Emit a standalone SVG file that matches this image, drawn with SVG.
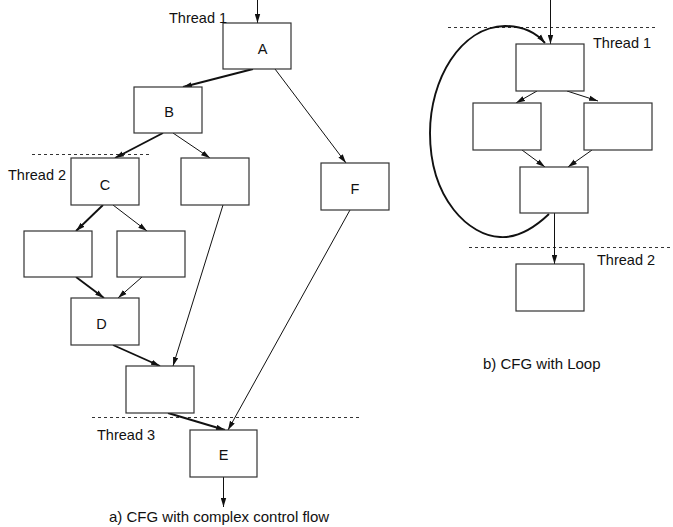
<svg xmlns="http://www.w3.org/2000/svg" width="673" height="527" viewBox="0 0 673 527">
<style>
.box{fill:#fff;stroke:#333;stroke-width:1.2}
.lbl{font-family:"Liberation Sans",Arial,sans-serif;font-size:14.5px;fill:#111}
.cap{font-family:"Liberation Sans",Arial,sans-serif;font-size:15px;fill:#111}
.thin{fill:none;stroke:#111;stroke-width:1;marker-end:url(#ah)}
.thick{fill:none;stroke:#111;stroke-width:1.9;marker-end:url(#ah)}
.plain{fill:none;stroke:#111;stroke-width:1}
.dash{fill:none;stroke:#333;stroke-width:1;stroke-dasharray:3,3}
</style>
<defs>
<marker id="ah" viewBox="0 0 10 6" refX="10" refY="3" markerWidth="9" markerHeight="6" markerUnits="userSpaceOnUse" orient="auto">
<path d="M0,0 L10,3 L0,6 z" fill="#111"/>
</marker>
</defs>
<rect width="673" height="527" fill="#fff"/>
<g id="separators">
<line class="dash" x1="32" y1="154.5" x2="152" y2="154.5"/>
<line class="dash" x1="92" y1="417.5" x2="360" y2="417.5"/>
<line class="dash" x1="448" y1="27.5" x2="655" y2="27.5"/>
<line class="dash" x1="469" y1="247.5" x2="673" y2="247.5"/>
</g>
<g id="connectors">
<line class="thin" x1="257.5" y1="0" x2="257.5" y2="23"/>
<line class="thick" x1="253" y1="69" x2="183" y2="87"/>
<line class="thin" x1="275" y1="69" x2="346" y2="163"/>
<line class="thick" x1="163" y1="133" x2="115" y2="158"/>
<line class="thin" x1="173" y1="133" x2="210" y2="158"/>
<line class="thick" x1="103" y1="205" x2="76" y2="231"/>
<line class="thin" x1="113" y1="205" x2="147" y2="231"/>
<line class="thick" x1="76" y1="277" x2="104" y2="298"/>
<line class="thin" x1="142" y1="277" x2="118" y2="298"/>
<line class="thick" x1="113" y1="345" x2="160" y2="366"/>
<line class="thin" x1="223" y1="205" x2="173" y2="366"/>
<line class="thick" x1="168" y1="413" x2="225" y2="430"/>
<line class="thin" x1="350" y1="210" x2="228" y2="430"/>
<line class="thin" x1="223.5" y1="477" x2="223.5" y2="507"/>
<line class="thin" x1="550.5" y1="0" x2="550.5" y2="44"/>
<line class="thin" x1="537" y1="91" x2="516" y2="103"/>
<line class="thin" x1="567" y1="91" x2="598" y2="101"/>
<line class="thin" x1="522" y1="150" x2="545" y2="167"/>
<line class="thin" x1="592" y1="150" x2="568" y2="167"/>
<line class="thin" x1="554.5" y1="213" x2="554.5" y2="264"/>
<path class="thick" d="M549,214 C530,232 515,238 500,237 C470,236 430,200 430,133 C430,80 460,27 505,26 C525,26 538,35 545,43"/>
</g>
<g id="nodeA"><rect class="box" x="223" y="23" width="68" height="46"/><text class="lbl" x="262.5" y="53.5" text-anchor="middle">A</text></g>
<g id="nodeB"><rect class="box" x="134" y="87" width="68" height="46"/><text class="lbl" x="169" y="116.5" text-anchor="middle">B</text></g>
<g id="nodeC"><rect class="box" x="71" y="158" width="68" height="47"/><text class="lbl" x="105" y="189.5" text-anchor="middle">C</text></g>
<g id="nodeG"><rect class="box" x="181" y="158" width="68" height="47"/></g>
<g id="nodeF"><rect class="box" x="321" y="163" width="68" height="47"/><text class="lbl" x="355" y="193.5" text-anchor="middle">F</text></g>
<g id="nodeL"><rect class="box" x="24" y="231" width="68" height="46"/></g>
<g id="nodeR"><rect class="box" x="117" y="231" width="68" height="46"/></g>
<g id="nodeD"><rect class="box" x="71" y="298" width="68" height="47"/><text class="lbl" x="101.5" y="328.5" text-anchor="middle">D</text></g>
<g id="nodeH"><rect class="box" x="126" y="366" width="68" height="47"/></g>
<g id="nodeE"><rect class="box" x="190" y="430" width="67" height="47"/><text class="lbl" x="223.5" y="460" text-anchor="middle">E</text></g>
<g id="nodeT1"><rect class="box" x="516" y="44" width="68" height="47"/></g>
<g id="nodeT2L"><rect class="box" x="473" y="103" width="68" height="47"/></g>
<g id="nodeT2R"><rect class="box" x="584" y="103" width="68" height="47"/></g>
<g id="nodeT3"><rect class="box" x="520" y="167" width="68" height="46"/></g>
<g id="nodeT4"><rect class="box" x="516" y="264" width="68" height="47"/></g>
<g id="labels">
<text class="lbl" x="169" y="22.5">Thread 1</text>
<text class="lbl" x="8" y="180">Thread 2</text>
<text class="lbl" x="97" y="439.5">Thread 3</text>
<text class="lbl" x="593" y="48">Thread 1</text>
<text class="lbl" x="597" y="265">Thread 2</text>
<text class="cap" x="109" y="522">a) CFG with complex control flow</text>
<text class="cap" x="483" y="369">b) CFG with Loop</text>
</g>
</svg>
